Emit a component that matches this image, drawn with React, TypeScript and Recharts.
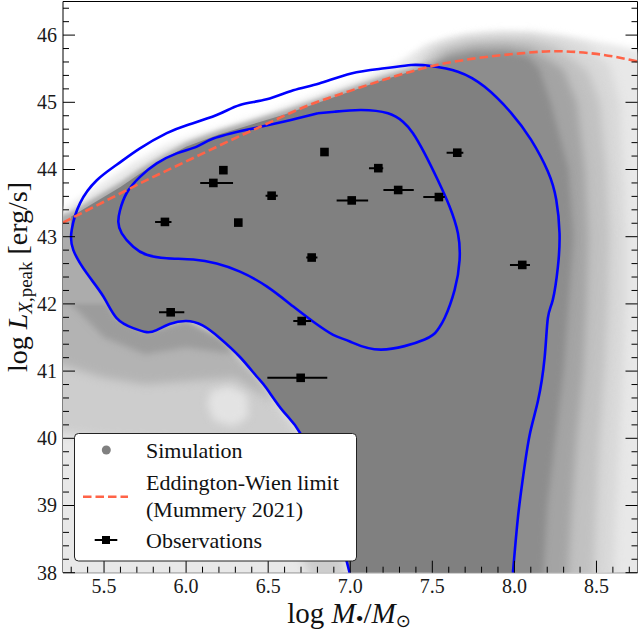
import React from 'react';
import { ComposedChart, Scatter, XAxis, YAxis, Curve } from 'recharts';

type P = [number, number];

const X_DOMAIN: [number, number] = [5.25, 8.75];
const Y_DOMAIN: [number, number] = [38, 46.5];

const xMajorTicks = [5.5, 6.0, 6.5, 7.0, 7.5, 8.0, 8.5];
const xMinorTicks = [5.3, 5.4, 5.6, 5.7, 5.8, 5.9, 6.1, 6.2, 6.3, 6.4, 6.6, 6.7, 6.8, 6.9, 7.1, 7.2, 7.3, 7.4, 7.6, 7.7, 7.8, 7.9, 8.1, 8.2, 8.3, 8.4, 8.6, 8.7];
const yMajorTicks = [38, 39, 40, 41, 42, 43, 44, 45, 46];
const yMinorTicks = [38.2, 38.4, 38.6, 38.8, 39.2, 39.4, 39.6, 39.8, 40.2, 40.4, 40.6, 40.8, 41.2, 41.4, 41.6, 41.8, 42.2, 42.4, 42.6, 42.8, 43.2, 43.4, 43.6, 43.8, 44.2, 44.4, 44.6, 44.8, 45.2, 45.4, 45.6, 45.8, 46.2, 46.4];

// Observations: log M, log Lx, x-error [minus, plus]
const observations = [
  { x: 6.227, y: 43.99, e: [0, 0] },
  { x: 6.166, y: 43.8, e: [0.08, 0.12] },
  { x: 6.521, y: 43.61, e: [0.037, 0.037] },
  { x: 5.871, y: 43.22, e: [0.06, 0.04] },
  { x: 6.318, y: 43.21, e: [0, 0] },
  { x: 6.843, y: 44.26, e: [0, 0] },
  { x: 7.171, y: 44.02, e: [0.057, 0.03] },
  { x: 7.292, y: 43.695, e: [0.09, 0.095] },
  { x: 7.009, y: 43.54, e: [0.092, 0.1] },
  { x: 7.54, y: 43.59, e: [0.095, 0.036] },
  { x: 7.652, y: 44.25, e: [0.065, 0.037] },
  { x: 8.048, y: 42.58, e: [0.075, 0.047] },
  { x: 6.765, y: 42.69, e: [0.033, 0.035] },
  { x: 5.906, y: 41.875, e: [0.071, 0.083] },
  { x: 6.704, y: 41.745, e: [0.051, 0.057] },
  { x: 6.698, y: 40.9, e: [0.203, 0.162] },
];

// Eddington-Wien limit (Mummery 2021)
const eddingtonWien: P[] = [
  [5.25, 43.21], [5.5, 43.52], [5.75, 43.83], [6.0, 44.12], [6.25, 44.41], [6.5, 44.69], [6.75, 44.96],
  [7.0, 45.17], [7.25, 45.37], [7.5, 45.54], [7.75, 45.65], [8.0, 45.72], [8.25, 45.76], [8.5, 45.72], [8.75, 45.61],
];

// Outer density contour (open at the bottom edge)
const outerContour: P[] = [
  [6.996, 38.0], [6.925, 38.635], [6.815, 39.38], [6.694, 40.08], [6.592, 40.4], [6.491, 40.74], [6.43, 40.92],
  [6.328, 41.21], [6.206, 41.49], [6.1, 41.68], [6.0, 41.745], [5.9, 41.7], [5.82, 41.61], [5.76, 41.58],
  [5.678, 41.64], [5.577, 41.79], [5.496, 42.11], [5.395, 42.455], [5.313, 42.8], [5.303, 43.1], [5.354, 43.5],
  [5.456, 43.84], [5.577, 44.07], [5.719, 44.315], [5.882, 44.54], [6.004, 44.66], [6.186, 44.81], [6.328, 44.96],
  [6.491, 45.045], [6.653, 45.18], [6.811, 45.28], [7.006, 45.43], [7.209, 45.506], [7.371, 45.555], [7.493, 45.54],
  [7.656, 45.455], [7.819, 45.23], [7.981, 44.84], [8.102, 44.44], [8.204, 43.97], [8.255, 43.55], [8.275, 43.05],
  [8.265, 42.55], [8.234, 42.06], [8.204, 41.79], [8.184, 41.195], [8.143, 40.55], [8.093, 40.05], [8.052, 39.41],
  [8.021, 38.81], [7.991, 38.0],
];

// Inner density contour (closed)
const innerContour: P[] = [
  [6.803, 44.836], [6.592, 44.71], [6.369, 44.59], [6.166, 44.46], [6.065, 44.34], [5.943, 44.24], [5.821, 44.09],
  [5.719, 43.89], [5.638, 43.65], [5.597, 43.39], [5.587, 43.22], [5.608, 43.05], [5.678, 42.85], [5.76, 42.73],
  [5.882, 42.68], [6.044, 42.66], [6.186, 42.6], [6.328, 42.48], [6.491, 42.26], [6.653, 41.96], [6.775, 41.735],
  [6.896, 41.54], [6.998, 41.44], [7.189, 41.32], [7.453, 41.47], [7.534, 41.62], [7.575, 41.79], [7.636, 42.21],
  [7.666, 42.65], [7.656, 43.05], [7.605, 43.45], [7.534, 43.84], [7.453, 44.24], [7.382, 44.54], [7.321, 44.71],
  [7.23, 44.836], [7.067, 44.885], [6.905, 44.86], [6.803, 44.836],
];

// Upper edge of the saturated part of the simulated cloud
const cloudTopEdge: P[] = [
  [5.3, 43.3], [5.45, 43.52], [5.6, 43.74], [5.72, 43.94], [5.85, 44.14], [6.0, 44.34], [6.2, 44.52], [6.4, 44.67],
  [6.6, 44.82], [6.8, 44.99], [7.0, 45.16], [7.2, 45.33], [7.4, 45.48],
];

// Density zones of the simulated points (outermost first)
const cloudEnvelope: P[] = [
  [5.1, 43.26], [5.25, 43.4], [5.31, 43.5], [5.48, 43.78], [5.68, 44.1], [5.88, 44.36], [6.08, 44.53], [6.29, 44.68],
  [6.49, 44.84], [6.69, 45.02], [6.9, 45.2], [7.1, 45.38], [7.3, 45.6], [7.45, 45.84], [7.6, 45.96], [7.8, 46.03],
  [8.0, 46.04], [8.2, 46.0], [8.4, 45.95], [8.6, 45.86], [8.75, 45.78], [8.9, 45.7], [8.9, 37.7], [5.1, 37.7],
];
const cloudRight4: P[] = [
  [7.4, 45.6], [7.5, 45.82], [7.7, 45.97], [7.9, 46.02], [8.1, 46.02], [8.3, 45.95], [8.45, 45.82], [8.58, 45.55],
  [8.64, 45.0], [8.66, 44.0], [8.68, 43.0], [8.68, 42.0], [8.66, 41.0], [8.64, 40.0], [8.62, 39.0], [8.6, 37.7], [7.5, 37.7],
];
const cloudRight3: P[] = [
  [7.45, 45.6], [7.55, 45.8], [7.7, 45.9], [7.9, 45.94], [8.1, 45.93], [8.25, 45.83], [8.38, 45.6], [8.45, 45.45],
  [8.52, 45.0], [8.56, 44.0], [8.58, 43.0], [8.57, 42.0], [8.55, 41.0], [8.52, 40.0], [8.5, 39.0], [8.48, 37.7], [7.5, 37.7],
];
const cloudRight2: P[] = [
  [7.493, 45.54], [7.6, 45.74], [7.75, 45.83], [7.95, 45.85], [8.1, 45.79], [8.22, 45.62], [8.3, 45.48], [8.38, 45.0],
  [8.43, 44.0], [8.45, 43.0], [8.44, 42.0], [8.42, 41.0], [8.38, 40.0], [8.35, 39.0], [8.32, 37.7], [7.5, 37.7],
];
const cloudRight1: P[] = [
  [7.493, 45.54], [7.6, 45.66], [7.75, 45.74], [7.95, 45.75], [8.08, 45.68], [8.15, 45.5], [8.22, 45.0], [8.33, 44.0],
  [8.36, 43.0], [8.33, 42.0], [8.3, 41.0], [8.25, 40.0], [8.2, 39.0], [8.17, 37.7], [7.5, 37.7],
];
const cloudLeft3: P[] = [
  [5.1, 43.35], [5.303, 43.1], [5.313, 42.8], [5.395, 42.455], [5.496, 42.11], [5.577, 41.79], [5.76, 41.58],
  [6.0, 41.745], [6.206, 41.49], [6.43, 40.92], [6.694, 40.08], [6.815, 39.38], [6.925, 38.635], [6.996, 37.7],
  [6.8, 37.7], [6.6, 38.8], [6.4, 39.5], [6.0, 39.95], [5.5, 40.0], [5.1, 40.1],
];
const cloudLeft2: P[] = [
  [5.1, 43.3], [5.303, 43.1], [5.313, 42.8], [5.395, 42.455], [5.496, 42.11], [5.577, 41.79], [5.76, 41.58],
  [6.0, 41.745], [6.206, 41.49], [6.43, 40.92], [6.55, 40.5], [6.3, 40.9], [6.0, 40.85], [5.75, 40.8], [5.5, 40.9],
  [5.1, 41.2],
];
const cloudLeft1: P[] = [
  [5.1, 43.28], [5.303, 43.1], [5.313, 42.8], [5.395, 42.455], [5.496, 42.11], [5.577, 41.79], [5.76, 41.58],
  [6.0, 41.745], [6.206, 41.49], [6.3, 41.25], [6.0, 41.35], [5.75, 41.25], [5.5, 41.5], [5.3, 42.0], [5.1, 42.3],
];
const cloudGap: P[] = [
  [6.15, 40.7], [6.26, 40.78], [6.37, 40.66], [6.38, 40.32], [6.29, 40.18], [6.17, 40.26], [6.13, 40.5],
];
const cloudTopFringe: P[] = [
  [5.1, 43.2], [5.3, 43.37], [5.45, 43.59], [5.6, 43.81], [5.72, 44.01], [5.85, 44.2], [6.0, 44.4], [6.2, 44.58],
  [6.4, 44.73], [6.6, 44.88], [6.8, 45.05], [7.0, 45.22], [7.2, 45.39], [7.4, 45.54], [7.5, 45.6], [7.5, 42.0], [5.1, 42.0],
];

const toPts = (a: P[]) => a.map(([x, y]) => ({ x, y }));

const idxTop = outerContour.findIndex(([x, y]) => x === 7.493 && y === 45.54);
const idxLeft = outerContour.findIndex(([x, y]) => x === 5.303 && y === 43.1);
const cloudSolid: P[] = [
  ...cloudTopEdge,
  ...outerContour.slice(idxTop),
  ...outerContour.slice(0, idxLeft + 1),
];

// error-bar segments built from the observation table
const errorSegments = observations
  .filter((o) => o.e[0] + o.e[1] > 0)
  .flatMap((o) => [
    { x: o.x - o.e[0], y: o.y },
    { x: o.x + o.e[1], y: o.y },
  ]);

const NoDot = () => <g />;
const fillShape = (fill: string, filterId: string | null) => (p: any) => (
  <Curve points={p.points} type="linearClosed" fill={fill} stroke="none" filter={filterId ? `url(#${filterId})` : undefined} />
);
const segmentsShape = (p: any) => {
  const pts = p.points as { x: number; y: number }[];
  let d = '';
  for (let i = 0; i + 1 < pts.length; i += 2) d += `M${pts[i].x},${pts[i].y}L${pts[i + 1].x},${pts[i + 1].y}`;
  return <path d={d} stroke="#000" strokeWidth={2} fill="none" />;
};
const SquareDot = (p: any) => (
  <rect x={p.cx - 4.3} y={p.cy - 4.3} width={8.6} height={8.6} fill="#000" />
);

const SERIF = "'Liberation Serif', 'DejaVu Serif', serif";
const TICK_COLOR = '#1a1a1a';
const isMajor = (v: number, majors: number[]) => majors.some((m) => Math.abs(m - v) < 1e-6);
const allX = [...xMajorTicks, ...xMinorTicks].sort((a, b) => a - b);
const allY = [...yMajorTicks, ...yMinorTicks].sort((a, b) => a - b);

const BottomTick = (p: any) => {
  const v = p.payload.value;
  const major = isMajor(v, xMajorTicks);
  return (
    <g>
      <line x1={p.x} x2={p.x} y1={p.y} y2={p.y - (major ? 12 : 6)} stroke="#000" strokeWidth={1} />
      {major && (
        <text x={p.x} y={p.y + 20.5} textAnchor="middle" fontFamily={SERIF} fontSize={20} fill={TICK_COLOR}>
          {v.toFixed(1)}
        </text>
      )}
    </g>
  );
};
const TopTick = (p: any) => {
  const major = isMajor(p.payload.value, xMajorTicks);
  return <line x1={p.x} x2={p.x} y1={p.y} y2={p.y + (major ? 12 : 6)} stroke="#000" strokeWidth={1} />;
};
const LeftTick = (p: any) => {
  const v = p.payload.value;
  const major = isMajor(v, yMajorTicks);
  return (
    <g>
      <line x1={p.x} x2={p.x + (major ? 12 : 6)} y1={p.y} y2={p.y} stroke="#000" strokeWidth={1} />
      {major && (
        <text x={p.x - 6} y={p.y + 6.8} textAnchor="end" fontFamily={SERIF} fontSize={20} fill={TICK_COLOR}>
          {String(v)}
        </text>
      )}
    </g>
  );
};
const RightTick = (p: any) => {
  const major = isMajor(p.payload.value, yMajorTicks);
  return <line x1={p.x} x2={p.x - (major ? 12 : 6)} y1={p.y} y2={p.y} stroke="#000" strokeWidth={1} />;
};

const axisStroke = { stroke: '#000', strokeWidth: 1 };

const fillLayers: { data: P[]; color: string; filter: string | null }[] = [
  { data: cloudEnvelope, color: '#e8e8e8', filter: 'soft3' },
  { data: cloudRight4, color: '#d8d8d8', filter: 'soft5' },
  { data: cloudRight3, color: '#c1c1c1', filter: 'soft5' },
  { data: cloudLeft3, color: '#cdcdcd', filter: 'soft5' },
  { data: cloudGap, color: '#e3e3e3', filter: 'soft4' },
  { data: cloudRight2, color: '#a4a4a4', filter: 'soft4' },
  { data: cloudLeft2, color: '#b3b3b3', filter: 'soft4' },
  { data: cloudRight1, color: '#8d8d8d', filter: 'soft3' },
  { data: cloudLeft1, color: '#9c9c9c', filter: 'soft3' },
  { data: cloudTopFringe, color: '#acacac', filter: 'soft2' },
  { data: cloudSolid, color: '#808080', filter: null },
];

const Soft = ({ id, blur }: { id: string; blur: number }) => (
  <filter id={id} filterUnits="userSpaceOnUse" x={0} y={0} width={640} height={640} colorInterpolationFilters="sRGB">
    <feGaussianBlur stdDeviation={blur} />
  </filter>
);

export default function App() {
  return (
    <div style={{ position: 'absolute', left: 0, top: 0, width: 638, height: 637, background: '#fff', overflow: 'hidden' }}>
      <svg width={0} height={0} style={{ position: 'absolute' }}>
        <defs>
          <Soft id="soft2" blur={2} />
          <Soft id="soft3" blur={3} />
          <Soft id="soft4" blur={4} />
          <Soft id="soft5" blur={5} />
        </defs>
      </svg>
      <ComposedChart width={639} height={637} margin={{ top: 0.5, right: 0.5, bottom: 63.3, left: 62 }}>
        {fillLayers.map((l, i) => (
          <Scatter
            key={'fill' + i}
            xAxisId="x"
            yAxisId="y"
            data={toPts(l.data)}
            shape={NoDot}
            line={fillShape(l.color, l.filter)}
            lineType="joint"
            legendType="none"
            isAnimationActive={false}
          />
        ))}
        <Scatter
          xAxisId="x"
          yAxisId="y"
          data={toPts(outerContour)}
          shape={NoDot}
          line={{ stroke: '#0000ff', strokeWidth: 2.6, fill: 'none' }}
          lineType="joint"
          lineJointType="natural"
          legendType="none"
          isAnimationActive={false}
        />
        <Scatter
          xAxisId="x"
          yAxisId="y"
          data={toPts(innerContour)}
          shape={NoDot}
          line={{ stroke: '#0000ff', strokeWidth: 2.6, fill: 'none' }}
          lineType="joint"
          lineJointType="natural"
          legendType="none"
          isAnimationActive={false}
        />
        <Scatter
          xAxisId="x"
          yAxisId="y"
          data={toPts(eddingtonWien)}
          shape={NoDot}
          line={{ stroke: '#ff6347', strokeWidth: 2.6, strokeDasharray: '8.5 4', fill: 'none' }}
          lineType="joint"
          lineJointType="monotoneX"
          legendType="none"
          isAnimationActive={false}
        />
        <Scatter
          xAxisId="x"
          yAxisId="y"
          data={errorSegments}
          shape={NoDot}
          line={segmentsShape}
          lineType="joint"
          legendType="none"
          isAnimationActive={false}
        />
        <Scatter
          xAxisId="x"
          yAxisId="y"
          data={observations}
          shape={SquareDot}
          legendType="none"
          isAnimationActive={false}
        />

        <XAxis xAxisId="x" dataKey="x" type="number" domain={X_DOMAIN} allowDataOverflow ticks={allX}
          interval={0} tickSize={0} tickMargin={0} height={1} tick={BottomTick} tickLine={false} axisLine={axisStroke} />
        <XAxis xAxisId="xt" orientation="top" type="number" domain={X_DOMAIN} allowDataOverflow ticks={allX}
          interval={0} tickSize={0} tickMargin={0} height={1} tick={TopTick} tickLine={false} axisLine={axisStroke} />
        <YAxis yAxisId="y" dataKey="y" type="number" domain={Y_DOMAIN} allowDataOverflow ticks={allY}
          interval={0} tickSize={0} tickMargin={0} width={1} tick={LeftTick} tickLine={false} axisLine={axisStroke} />
        <YAxis yAxisId="yr" orientation="right" type="number" domain={Y_DOMAIN} allowDataOverflow ticks={allY}
          interval={0} tickSize={0} tickMargin={0} width={1} tick={RightTick} tickLine={false} axisLine={axisStroke} />
      </ComposedChart>

      <svg width={638} height={637} style={{ position: 'absolute', left: 0, top: 0, pointerEvents: 'none' }}>
        {/* axis titles */}
        <text x={349} y={623} textAnchor="middle" fontFamily={SERIF} fontSize={29} fill="#111">
          log <tspan fontStyle="italic">M</tspan>
          <tspan fontSize={22} dy={3}>•</tspan>
          <tspan dy={-3}>/</tspan>
          <tspan fontStyle="italic">M</tspan>
          <tspan fontSize={18} dy={4} fontFamily="'DejaVu Sans', sans-serif">⊙</tspan>
        </text>
        <text transform="translate(27,277) rotate(-90)" textAnchor="middle" fontFamily={SERIF} fontSize={28} fill="#111">
          log <tspan fontStyle="italic">L</tspan>
          <tspan fontSize={19} dy={5}><tspan fontStyle="italic">X</tspan>,peak</tspan>
          <tspan dy={-5}> [erg/s]</tspan>
        </text>

        {/* legend */}
        <rect x={74.5} y={433.5} width={282} height={127.5} rx={4} ry={4} fill="#fff" stroke="#222" strokeWidth={1} />
        <circle cx={106.3} cy={450} r={4.5} fill="#808080" />
        <text x={146} y={458.3} fontFamily={SERIF} fontSize={22} fill="#111">Simulation</text>
        <line x1={83} y1={496.7} x2={128} y2={496.7} stroke="#ff6347" strokeWidth={2.4} strokeDasharray="8.5 4" />
        <text x={146} y={490} fontFamily={SERIF} fontSize={22} fill="#111">Eddington-Wien limit</text>
        <text x={146} y={516.7} fontFamily={SERIF} fontSize={22} fill="#111">(Mummery 2021)</text>
        <line x1={94.7} y1={540} x2={117.3} y2={540} stroke="#000" strokeWidth={2} />
        <rect x={102} y={536} width={8} height={8} fill="#000" />
        <text x={146} y={548.3} fontFamily={SERIF} fontSize={22} fill="#111">Observations</text>
      </svg>
    </div>
  );
}
